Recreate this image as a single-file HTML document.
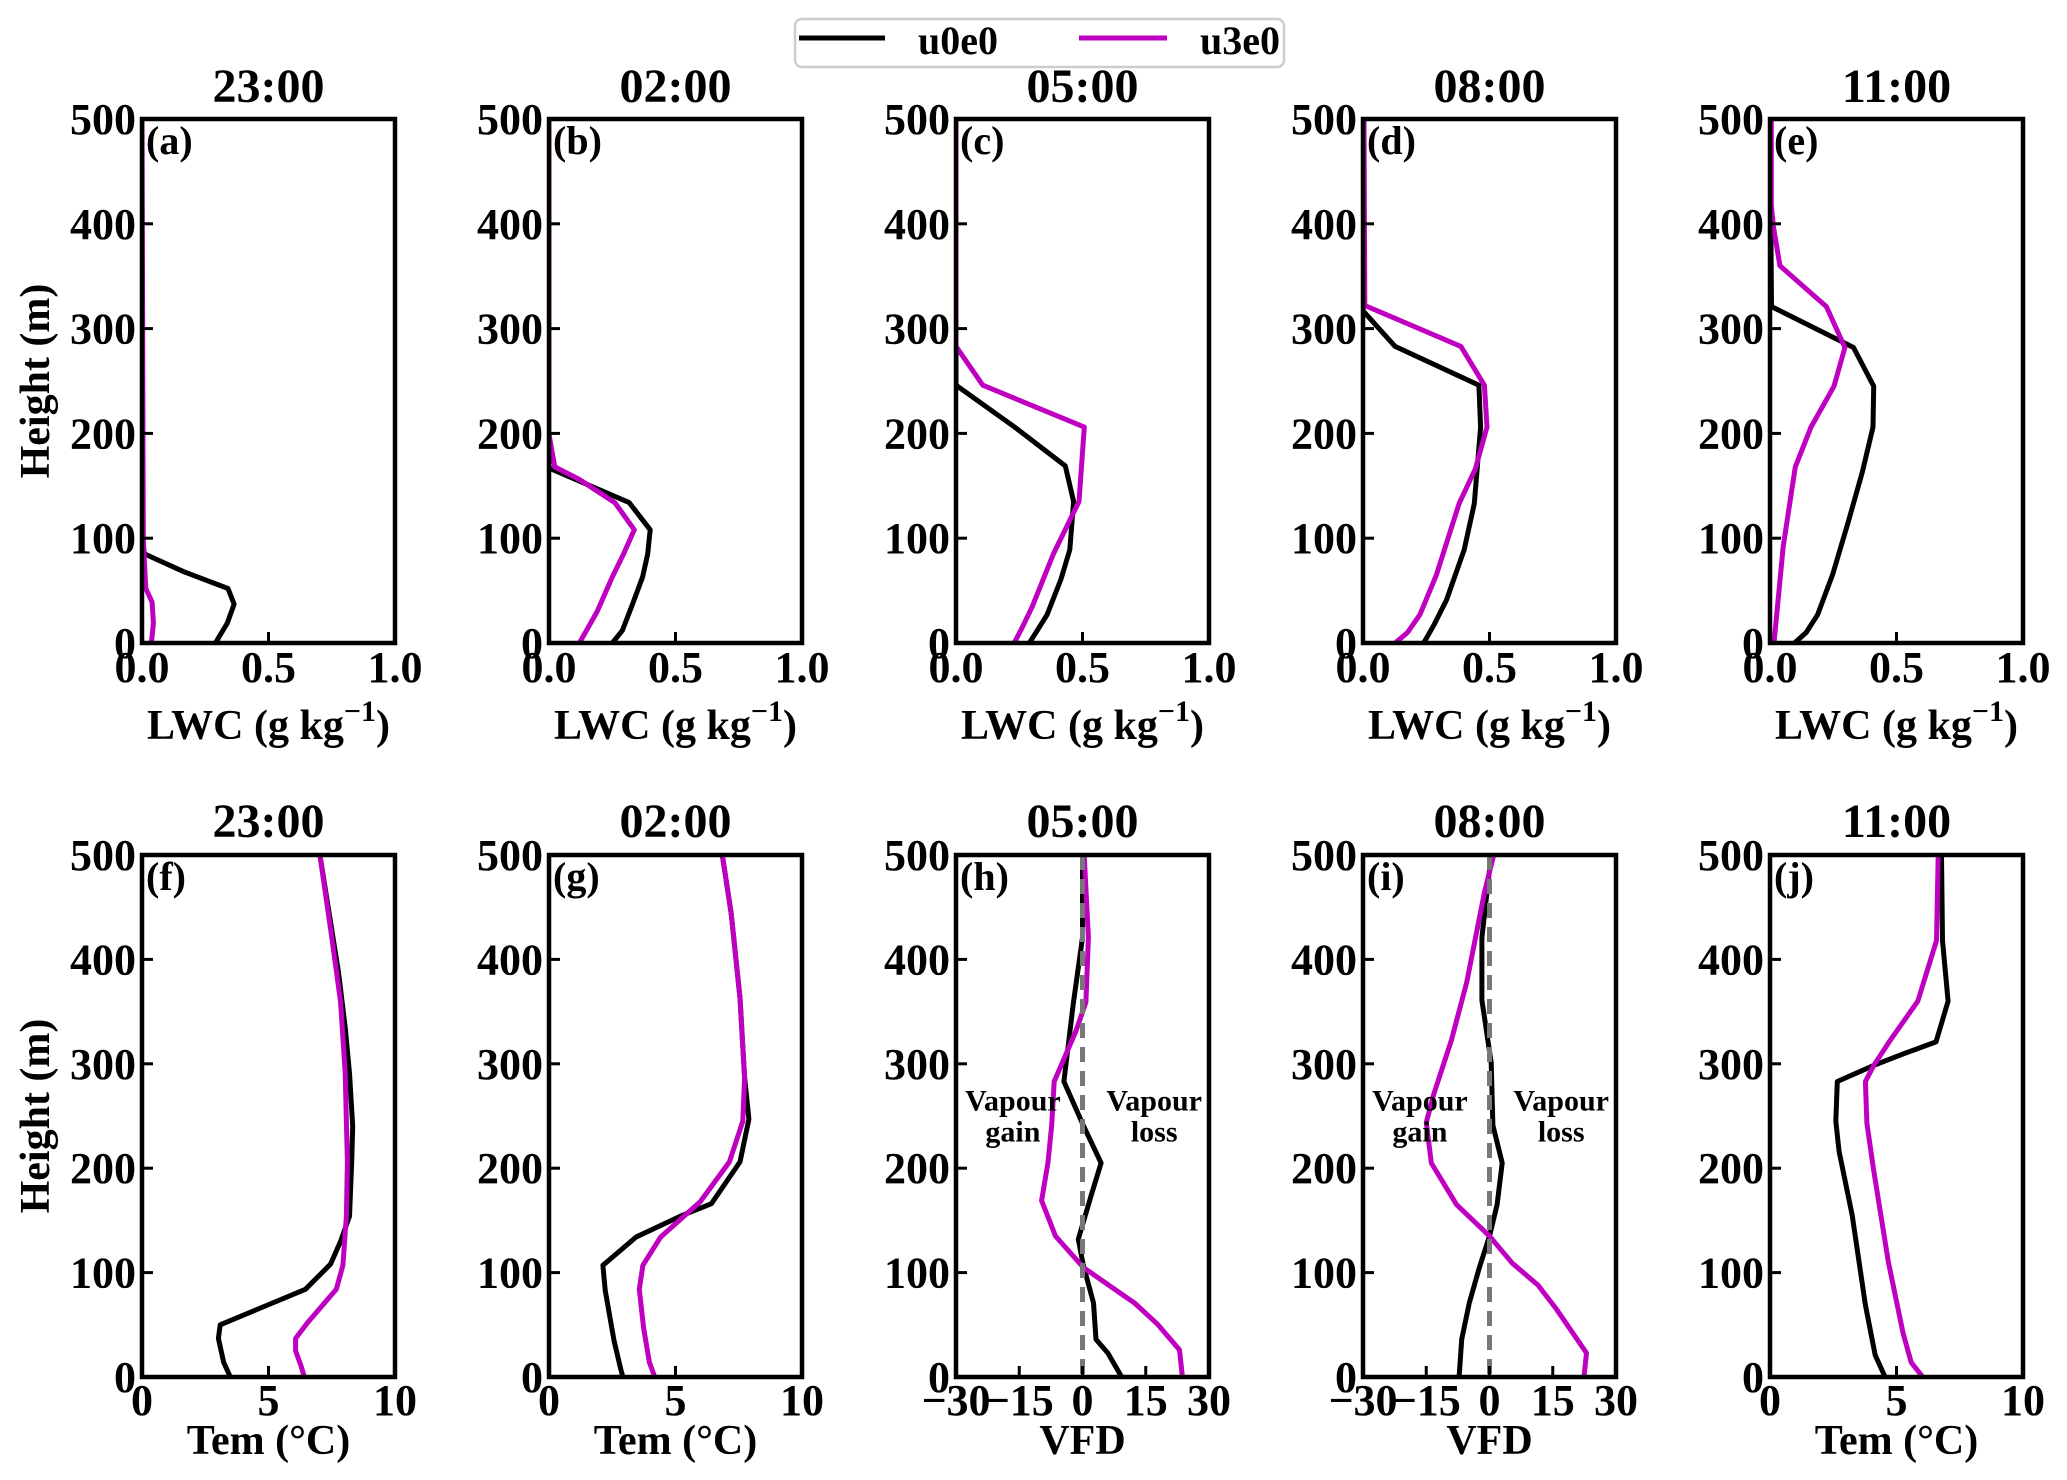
<!DOCTYPE html>
<html><head><meta charset="utf-8"><title>LWC, temperature and VFD vertical profiles</title>
<style>
html,body{margin:0;padding:0;background:#fff;}
svg{display:block;font-family:"Liberation Serif","DejaVu Serif",serif;font-weight:bold;}
</style></head>
<body>
<svg id="fig" xmlns="http://www.w3.org/2000/svg" width="2067" height="1480" viewBox="0 0 2067 1480">
  <rect x="0" y="0" width="2067" height="1480" fill="#fff"/>
  <g>
    <rect x="795" y="19" width="489" height="48" rx="7" fill="#fff" stroke="#cccccc" stroke-width="2.5"/>
    <line x1="799" y1="38" x2="885" y2="38" stroke="#000" stroke-width="5"/>
    <text x="918" y="54" font-size="40">u0e0</text>
    <line x1="1079" y1="38" x2="1167" y2="38" stroke="#c000c0" stroke-width="5"/>
    <text x="1200" y="54" font-size="40">u3e0</text>
  </g>
</svg>
<script>
// ---- data (height in m, value on x axis) ----
const heightTicks = [0, 100, 200, 300, 400, 500];
const lwcTicks = ["0.0", "0.5", "1.0"];
const lwcTickValues = [0, 0.5, 1.0];
const temTicks = ["0", "5", "10"];
const temTickValues = [0, 5, 10];
const vfdTicks = ["\u221230", "\u221215", "0", "15", "30"];
const vfdTickValues = [-30, -15, 0, 15, 30];
const panelTitles = ["23:00", "02:00", "05:00", "08:00", "11:00", "23:00", "02:00", "05:00", "08:00", "11:00"];
const panelLetters = ["(a)", "(b)", "(c)", "(d)", "(e)", "(f)", "(g)", "(h)", "(i)", "(j)"];

// (a) LWC 23:00
const aBlackH = [500, 100, 85, 68, 52, 37, 19, 0];
const aBlackX = [0, 0, 0.01, 0.165, 0.34, 0.364, 0.337, 0.29];
const aMagH = [500, 99, 52, 39, 19, 0];
const aMagX = [0, 0.005, 0.015, 0.04, 0.045, 0.037];
// (b) LWC 02:00
const bBlackH = [500, 167, 134, 108, 85, 63, 37, 12, 0];
const bBlackX = [0, 0, 0.317, 0.40, 0.39, 0.37, 0.33, 0.29, 0.25];
const bMagH = [500, 199, 168, 156, 134, 108, 85, 63, 30, 0];
const bMagX = [0, 0, 0.023, 0.12, 0.26, 0.337, 0.295, 0.25, 0.19, 0.12];
// (c) LWC 05:00
const cBlackH = [500, 246, 206, 169, 135, 89, 61, 27, 0];
const cBlackX = [0, 0, 0.232, 0.432, 0.465, 0.45, 0.415, 0.36, 0.29];
const cMagH = [500, 283, 246, 206, 135, 85, 34, 14, 0];
const cMagX = [0, 0, 0.106, 0.507, 0.486, 0.385, 0.30, 0.26, 0.23];
// (d) LWC 08:00
const dBlackH = [500, 317, 283, 246, 206, 133, 89, 41, 17, 0];
const dBlackX = [0, 0, 0.127, 0.458, 0.465, 0.44, 0.40, 0.33, 0.28, 0.24];
const dMagH = [500, 322, 283, 246, 206, 166, 133, 65, 27, 10, 0];
const dMagX = [0.004, 0.007, 0.387, 0.48, 0.49, 0.444, 0.38, 0.29, 0.225, 0.176, 0.127];
// (e) LWC 11:00
const eBlackH = [500, 321, 282, 245, 206, 163, 116, 65, 27, 10, 0];
const eBlackX = [0, 0.006, 0.33, 0.41, 0.407, 0.365, 0.31, 0.247, 0.188, 0.143, 0.097];
const eMagH = [500, 418, 398, 360, 321, 282, 245, 206, 168, 92, 0];
const eMagX = [0.005, 0.005, 0.013, 0.039, 0.223, 0.296, 0.253, 0.162, 0.10, 0.052, 0.016];
// (f) Tem 23:00
const fBlackH = [500, 441, 387, 335, 291, 240, 206, 154, 130, 108, 84, 69, 50, 37, 14, 0];
const fBlackX = [7.03, 7.42, 7.77, 8.03, 8.2, 8.33, 8.29, 8.2, 7.85, 7.45, 6.46, 4.97, 3.09, 3.02, 3.23, 3.49];
const fMagH = [500, 421, 359, 291, 206, 154, 107, 84, 52, 37, 25, 11, 0];
const fMagX = [7.03, 7.5, 7.85, 8.03, 8.12, 8.08, 7.94, 7.68, 6.54, 6.07, 6.07, 6.28, 6.42];
// (g) Tem 02:00
const gBlackH = [500, 444, 363, 287, 247, 206, 166, 154, 134, 107, 83, 35, 8, 0];
const gBlackX = [6.85, 7.2, 7.55, 7.73, 7.9, 7.55, 6.42, 5.19, 3.44, 2.13, 2.22, 2.57, 2.83, 2.92];
const gMagH = [500, 444, 363, 287, 245, 206, 168, 134, 107, 84, 47, 14, 0];
const gMagX = [6.85, 7.2, 7.55, 7.73, 7.66, 7.13, 5.98, 4.41, 3.71, 3.57, 3.74, 3.97, 4.18];
// (h) VFD 05:00
const hBlackH = [500, 421, 357, 283, 241, 205, 173, 132, 107, 71, 36, 23, 0];
const hBlackX = [0, 0, -2.2, -4.4, 0.2, 4.4, 2.0, -1.0, 0.2, 2.6, 3.2, 6.0, 9.3];
const hMagH = [500, 421, 359, 331, 283, 241, 205, 169, 135, 105, 88, 71, 51, 26, 0];
const hMagX = [0.4, 1.4, 0.8, -1.6, -6.7, -7.3, -8.2, -9.7, -6.4, 0.2, 6.2, 12.3, 17.7, 23.0, 23.7];
// (i) VFD 08:00
const iBlackH = [500, 421, 361, 301, 241, 205, 165, 135, 105, 71, 36, 0];
const iBlackX = [0.4, -1.8, -1.8, 0.4, 0.8, 3.0, 1.8, 0, -2.4, -4.8, -6.6, -7.2];
const iMagH = [500, 464, 378, 323, 271, 244, 205, 165, 135, 109, 88, 66, 23, 0];
const iMagX = [1.0, -1.2, -5.4, -9.0, -13.2, -15.0, -13.8, -7.8, 0, 5.4, 11.5, 15.7, 23.0, 22.4];
// (j) Tem 11:00
const jBlackH = [500, 418, 360, 321, 310, 299, 283, 245, 216, 155, 69, 21, 0];
const jBlackX = [6.78, 6.82, 7.04, 6.56, 5.32, 4.16, 2.66, 2.6, 2.73, 3.25, 3.77, 4.16, 4.55];
const jMagH = [500, 418, 360, 322, 298, 283, 243, 199, 110, 42, 14, 0];
const jMagX = [6.65, 6.58, 5.84, 4.74, 4.09, 3.77, 3.83, 4.09, 4.68, 5.26, 5.58, 6.04];

// ---- layout ----
const NS = "http://www.w3.org/2000/svg";
const svg = document.getElementById("fig");
const panelLefts = [142, 549, 956, 1363, 1770];
const PW = 253;
const rows = [{top: 119, bottom: 643, title: 102, tick: 682, xlab: 739},
              {top: 855, bottom: 1377, title: 837, tick: 1415, xlab: 1454}];

function mk(tag, attrs, parent) {
  const el = document.createElementNS(NS, tag);
  for (const k in attrs) el.setAttribute(k, attrs[k]);
  (parent || svg).appendChild(el);
  return el;
}

const panels = [
  {kind: "lwc", bh: aBlackH, bx: aBlackX, mh: aMagH, mx: aMagX},
  {kind: "lwc", bh: bBlackH, bx: bBlackX, mh: bMagH, mx: bMagX},
  {kind: "lwc", bh: cBlackH, bx: cBlackX, mh: cMagH, mx: cMagX},
  {kind: "lwc", bh: dBlackH, bx: dBlackX, mh: dMagH, mx: dMagX},
  {kind: "lwc", bh: eBlackH, bx: eBlackX, mh: eMagH, mx: eMagX},
  {kind: "tem", bh: fBlackH, bx: fBlackX, mh: fMagH, mx: fMagX},
  {kind: "tem", bh: gBlackH, bx: gBlackX, mh: gMagH, mx: gMagX},
  {kind: "vfd", bh: hBlackH, bx: hBlackX, mh: hMagH, mx: hMagX},
  {kind: "vfd", bh: iBlackH, bx: iBlackX, mh: iMagH, mx: iMagX},
  {kind: "tem", bh: jBlackH, bx: jBlackX, mh: jMagH, mx: jMagX}
];

panels.forEach((p, idx) => {
  const r = rows[Math.floor(idx / 5)];
  const L = panelLefts[idx % 5];
  const T = r.top, B = r.bottom;
  let xmin, xmax, tv, tl;
  if (p.kind === "lwc") { xmin = 0; xmax = 1; tv = lwcTickValues; tl = lwcTicks; }
  else if (p.kind === "tem") { xmin = 0; xmax = 10; tv = temTickValues; tl = temTicks; }
  else { xmin = -30; xmax = 30; tv = vfdTickValues; tl = vfdTicks; }
  const xs = v => L + (v - xmin) / (xmax - xmin) * PW;
  const ys = h => B - h / 500 * (B - T);
  const letter = panelLetters[idx].replace(/[()]/g, "");

  const g = mk("g", {});
  
  

  const title = mk("text", {x: L + PW / 2, y: r.title, "font-size": 48, "text-anchor": "middle"}, g);
  title.textContent = panelTitles[idx];
  
  

  const cp = mk("clipPath", {id: "clip" + idx}, g);
  mk("rect", {x: L, y: T, width: PW, height: B - T}, cp);

  const series = [{h: p.bh, x: p.bx, c: "#000", n: "u0e0"}, {h: p.mh, x: p.mx, c: "#c000c0", n: "u3e0"}];
  series.forEach(s => {
    const pts = s.h.map((h, i) => xs(s.x[i]).toFixed(1) + "," + ys(h).toFixed(1)).join(" ");
    const pl = mk("polyline", {points: pts, fill: "none", stroke: s.c, "stroke-width": 5, "stroke-linejoin": "round", "clip-path": "url(#clip" + idx + ")"}, g);
    
    
  });
  if (p.kind === "vfd") {
    const z = mk("line", {x1: xs(0), y1: T, x2: xs(0), y2: B, stroke: "#777", "stroke-width": 5, "stroke-dasharray": "15 9"}, g);
    
    
  }

  heightTicks.forEach(h => {
    const tk = mk("line", {x1: L, y1: ys(h), x2: L + 11, y2: ys(h), stroke: "#000", "stroke-width": 3}, g);
    
    
    const t = mk("text", {x: L - 6, y: ys(h) + 15, "font-size": 44, "text-anchor": "end"}, g);
    t.textContent = String(h);
    
    
  });
  tv.forEach((v, i) => {
    const tk = mk("line", {x1: xs(v), y1: B, x2: xs(v), y2: B - 11, stroke: "#000", "stroke-width": 3}, g);
    
    
    const t = mk("text", {x: xs(v), y: r.tick, "font-size": 44, "text-anchor": "middle"}, g);
    t.textContent = tl[i];
    
    
  });

  const fr = mk("rect", {x: L, y: T, width: PW, height: B - T, fill: "none", stroke: "#000", "stroke-width": 4.5}, g);
  
  

  const lab = mk("text", {x: L + 4, y: T + 35, "font-size": 40}, g);
  lab.textContent = panelLetters[idx];
  
  

  const xl = mk("text", {x: L + PW / 2, y: r.xlab, "font-size": 42, "text-anchor": "middle"}, g);
  
  
  if (p.kind === "lwc") {
    xl.appendChild(document.createTextNode("LWC (g kg"));
    const sup = mk("tspan", {dy: -18, "font-size": 30}, xl);
    sup.textContent = "\u22121";
    const cl = mk("tspan", {dy: 18}, xl);
    cl.textContent = ")";
  } else if (p.kind === "tem") {
    xl.textContent = "Tem (\u00B0C)";
  } else {
    xl.textContent = "VFD";
  }

  if (p.kind === "vfd") {
    const ann = [["Vapour", -16.5, 265], ["gain", -16.5, 235], ["Vapour", 17, 265], ["loss", 17, 235]];
    ann.forEach(a => {
      const t = mk("text", {x: xs(a[1]), y: ys(a[2]) + 10, "font-size": 30, "text-anchor": "middle"}, g);
      t.textContent = a[0];
      
      
    });
  }

  if (idx % 5 === 0) {
    const cy = (T + B) / 2;
    const yl = mk("text", {x: 36, y: cy, "font-size": 42, "text-anchor": "middle", transform: "rotate(-90 36 " + cy + ")", "dominant-baseline": "central"}, g);
    yl.textContent = "Height (m)";
    
    
  }
});
</script>
</body></html>
